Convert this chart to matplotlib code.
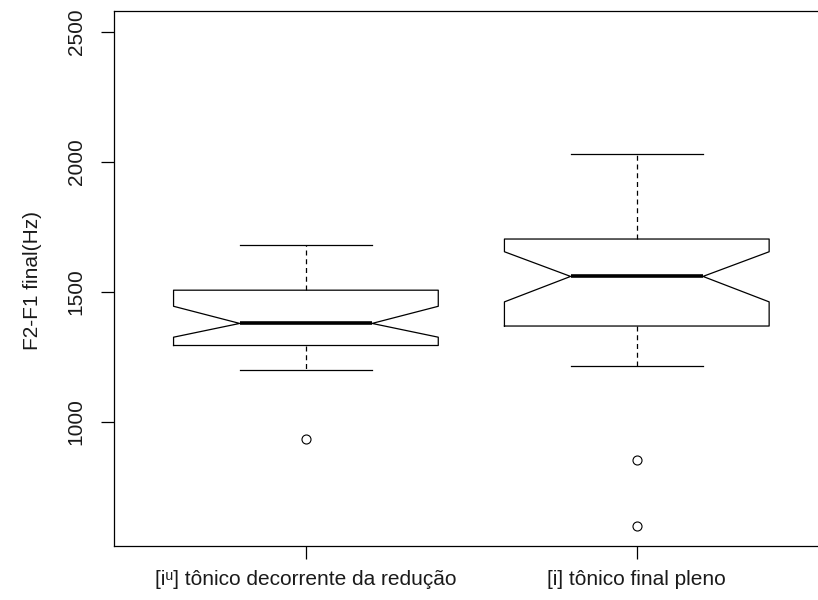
import matplotlib
matplotlib.use("Agg")
import matplotlib.pyplot as plt

# ---- data ----
categories = ["[i\u1d58] tônico decorrente da redução", "[i] tônico final pleno"]
whislo = [1197, 1216]
q1 = [1293, 1368]
med = [1378, 1559]
q3 = [1506, 1703]
whishi = [1680, 2031]
notch_lo = [1325, 1461]
notch_hi = [1444, 1654]
outliers = [[934], [852, 598]]
yticks = [1000, 1500, 2000, 2500]
ylabel = "F2-F1 final(Hz)"

plt.rcParams['font.family'] = ['Liberation Sans', 'DejaVu Sans']

fig = plt.figure(figsize=(8.18, 6.0), dpi=100)
ax = fig.add_axes([114/818, 1-546/600, (828.7-114)/818, (546-11)/600])

stats = []
for i in range(len(categories)):
    stats.append(dict(med=med[i], q1=q1[i], q3=q3[i], whislo=whislo[i],
                      whishi=whishi[i], cilo=notch_lo[i], cihi=notch_hi[i],
                      fliers=outliers[i], label=categories[i]))

lw = 0.9
ax.bxp(stats, positions=[1, 2], widths=0.8, shownotches=True,
       boxprops=dict(color='black', linewidth=lw),
       whiskerprops=dict(color='black', linewidth=lw, linestyle=(0, (4, 3))),
       capprops=dict(color='black', linewidth=lw),
       medianprops=dict(color='black', linewidth=2.6, solid_capstyle='butt'),
       flierprops=dict(marker='o', markerfacecolor='none', markeredgecolor='black',
                       markersize=6.5, markeredgewidth=0.8, linestyle='none'))

ax.set_xlim(0.42, 2.58)
ax.set_ylim(521, 2581)
ax.set_yticks(yticks)
fs = 15
ax.set_yticklabels([str(t) for t in yticks], rotation=90, va='center', fontsize=fs)
ax.set_xticks([1, 2])
ax.set_xticklabels(categories, fontsize=fs)
ax.tick_params(axis='both', length=9.5, width=0.9, color='black', labelcolor='#1a1a1a')
ax.tick_params(axis='y', pad=11)
ax.tick_params(axis='x', pad=8)
ax.spines['right'].set_visible(False)
for s in ax.spines.values():
    s.set_linewidth(0.9)
    s.set_color('black')

fig.text(32/818, 1-280/600, ylabel, rotation=90, ha='center', va='center',
         fontsize=fs, color='#1a1a1a')

fig.savefig("out.png", dpi=100)
